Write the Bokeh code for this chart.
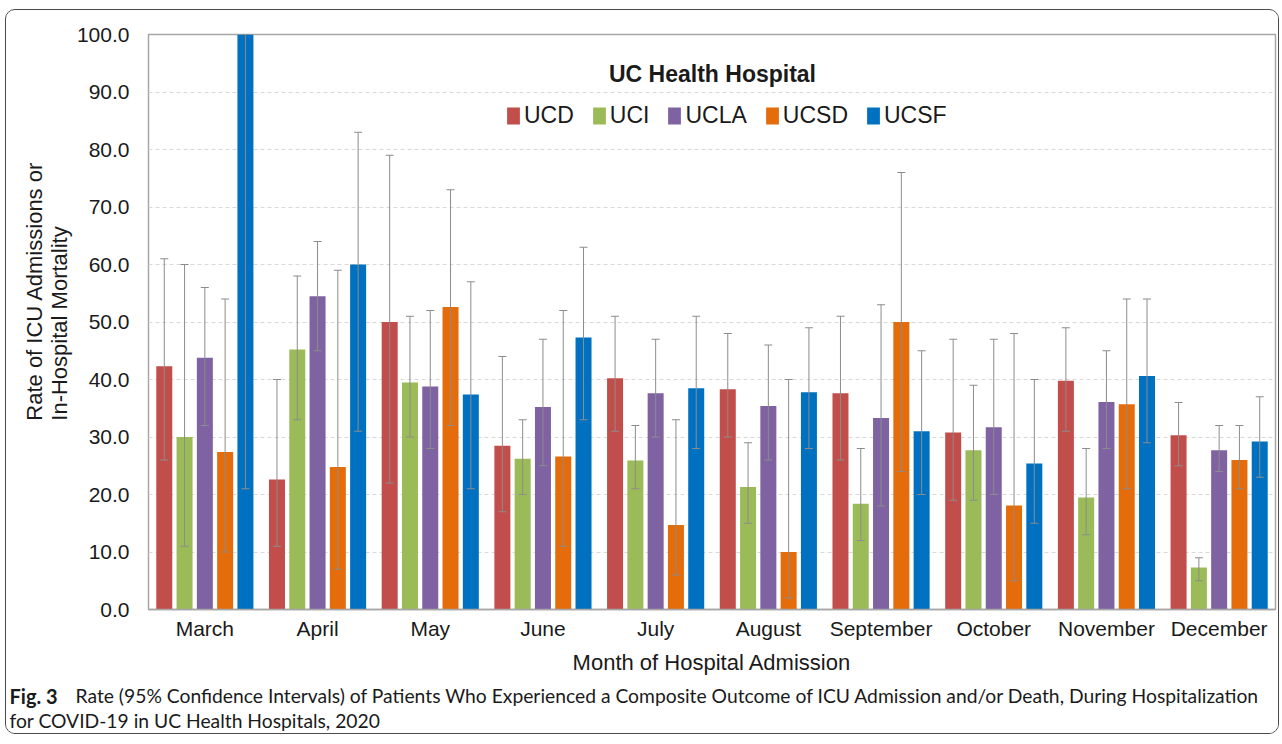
from bokeh.plotting import figure
from bokeh.layouts import column
from bokeh.models import (ColumnDataSource, FactorRange, Range1d, Whisker, TeeHead,
                          Legend, LegendItem, Label, Title, NumeralTickFormatter, FixedTicker)
from bokeh.transform import dodge
from bokeh.embed import file_html
from bokeh.resources import INLINE

months = ["March", "April", "May", "June", "July", "August", "September",
          "October", "November", "December"]
hospitals = ["UCD", "UCI", "UCLA", "UCSD", "UCSF"]
colors = ["#C24E4B", "#9BBB59", "#7F62A1", "#E46C0A", "#0070C0"]

ucd_rate = [42.3, 22.6, 50.0, 28.5, 40.2, 38.3, 37.6, 30.8, 39.8, 30.3]
ucd_lower = [26, 11, 22, 17, 31, 30, 26, 19, 31, 25]
ucd_upper = [61, 40, 79, 44, 51, 48, 51, 47, 49, 36]

uci_rate = [30.0, 45.2, 39.5, 26.2, 25.9, 21.3, 18.4, 27.7, 19.5, 7.3]
uci_lower = [11, 33, 30, 20, 21, 15, 12, 19, 13, 5]
uci_upper = [60, 58, 51, 33, 32, 29, 28, 39, 28, 9]

ucla_rate = [43.8, 54.5, 38.8, 35.2, 37.6, 35.4, 33.3, 31.7, 36.1, 27.7]
ucla_lower = [32, 45, 28, 25, 30, 26, 18, 20, 28, 24]
ucla_upper = [56, 64, 52, 47, 47, 46, 53, 47, 45, 32]

ucsd_rate = [27.4, 24.8, 52.6, 26.6, 14.7, 10.0, 50.0, 18.1, 35.7, 26.0]
ucsd_lower = [10, 7, 32, 11, 6, 2, 24, 5, 21, 21]
ucsd_upper = [54, 59, 73, 52, 33, 40, 76, 48, 54, 32]

ucsf_rate = [100.0, 60.0, 37.4, 47.3, 38.5, 37.8, 31.0, 25.4, 40.6, 29.2]
ucsf_lower = [21, 31, 21, 33, 28, 28, 20, 15, 29, 23]
ucsf_upper = [100, 83, 57, 63, 51, 49, 45, 40, 54, 37]

y_ticks = [0, 10, 20, 30, 40, 50, 60, 70, 80, 90, 100]

series = [
    (ucd_rate, ucd_lower, ucd_upper),
    (uci_rate, uci_lower, uci_upper),
    (ucla_rate, ucla_lower, ucla_upper),
    (ucsd_rate, ucsd_lower, ucsd_upper),
    (ucsf_rate, ucsf_lower, ucsf_upper),
]
offsets = [-0.36, -0.18, 0.0, 0.18, 0.36]

FONT = "Liberation Sans"
TXT = "#1a1a1a"

p = figure(x_range=FactorRange(factors=months), y_range=Range1d(0, 100),
           width=1272, height=672, output_backend="svg", toolbar_location=None,
           min_border_left=142, min_border_right=3, min_border_top=24,
           min_border_bottom=73)
p.background_fill_color = "white"
p.border_fill_color = "white"
p.outline_line_color = "#a6a6a6"
p.outline_line_width = 1.5

p.xgrid.grid_line_color = None
p.ygrid.grid_line_color = "#d9d9d9"
p.ygrid.grid_line_dash = "4 3"
p.ygrid.grid_line_width = 1

p.yaxis.ticker = FixedTicker(ticks=y_ticks)
p.yaxis.formatter = NumeralTickFormatter(format="0.0")
p.yaxis.major_label_text_font = FONT
p.yaxis.major_label_text_font_size = "21px"
p.yaxis.major_label_text_color = TXT
p.yaxis.major_tick_line_color = None
p.yaxis.major_tick_out = 0
p.yaxis.minor_tick_line_color = None
p.yaxis.minor_tick_out = 0
p.yaxis.axis_line_color = None
p.yaxis.major_label_standoff = 19

p.add_layout(Title(text="Rate of ICU Admissions or\nIn-Hospital  Mortality",
                   align="right", offset=127, standoff=4,
                   text_font=FONT, text_font_size="22px", text_font_style="normal",
                   text_color=TXT), "left")

p.xaxis.major_label_text_font = FONT
p.xaxis.major_label_text_font_size = "21px"
p.xaxis.major_label_text_color = TXT
p.xaxis.major_tick_line_color = None
p.xaxis.major_tick_out = 0
p.xaxis.axis_line_color = "#a6a6a6"
p.xaxis.axis_line_width = 1.5
p.xaxis.major_label_standoff = 7
p.xaxis.axis_label = "Month of Hospital Admission"
p.xaxis.axis_label_text_font = FONT
p.xaxis.axis_label_text_font_size = "22px"
p.xaxis.axis_label_text_font_style = "normal"
p.xaxis.axis_label_text_color = TXT
p.xaxis.axis_label_standoff = 7

items = []
for name, color, off, (rate, lo, hi) in zip(hospitals, colors, offsets, series):
    src = ColumnDataSource(dict(month=months, rate=rate, lower=lo, upper=hi))
    r = p.vbar(x=dodge("month", off, range=p.x_range), top="rate", width=0.142,
               source=src, fill_color=color, line_color=None)
    w = Whisker(base=dodge("month", off, range=p.x_range), lower="lower", upper="upper",
                source=src, line_color="#8c8c8c", line_width=1, level="overlay",
                upper_head=TeeHead(size=8, line_color="#8c8c8c", line_width=1),
                lower_head=TeeHead(size=8, line_color="#8c8c8c", line_width=1))
    p.add_layout(w)
    items.append(LegendItem(label=name, renderers=[r]))

legend = Legend(items=items, orientation="horizontal", location=(357, 480),
                glyph_width=16, glyph_height=21, label_standoff=3, spacing=17,
                padding=0, margin=0, border_line_color=None,
                background_fill_alpha=0, label_text_font=FONT,
                label_text_font_size="23px", label_text_color=TXT)
p.add_layout(legend)

p.add_layout(Label(x=564, y=536, x_units="screen", y_units="screen",
                   text="UC Health Hospital", text_align="center", text_baseline="middle",
                   text_font=FONT, text_font_size="23px", text_font_style="bold",
                   text_color=TXT))

# caption panel
cap = figure(width=1272, height=51, output_backend="svg", toolbar_location=None,
             x_range=Range1d(0, 1272), y_range=Range1d(0, 51),
             x_axis_type=None, y_axis_type=None,
             min_border=0, min_border_left=0, min_border_right=0,
             min_border_top=0, min_border_bottom=0)
cap.grid.visible = False
cap.outline_line_color = None
cap.background_fill_color = "white"
cap.border_fill_color = "white"
for fig in (p, cap):
    try:
        fig.frame_align = False
    except Exception:
        pass

CAP = "Lato"
CAP_SIZE = "19.3px"
cap.add_layout(Label(x=3, y=38, x_units="screen", y_units="screen",
                     text="Fig. 3", text_align="left", text_baseline="middle",
                     text_font=CAP, text_font_size="20px", text_font_style="bold",
                     text_color=TXT))
cap.add_layout(Label(x=69, y=38, x_units="screen", y_units="screen",
                     text="Rate (95% Confidence Intervals) of Patients Who Experienced a Composite "
                          "Outcome of ICU Admission and/or Death, During Hospitalization",
                     text_align="left", text_baseline="middle",
                     text_font=CAP, text_font_size=CAP_SIZE, text_color=TXT))
cap.add_layout(Label(x=3, y=13, x_units="screen", y_units="screen",
                     text="for COVID-19 in UC Health Hospitals, 2020",
                     text_align="left", text_baseline="middle",
                     text_font=CAP, text_font_size=CAP_SIZE, text_color=TXT))

layout = column(p, cap, spacing=0)
layout.styles = {"border": "1px solid #4a4a4a", "border-radius": "10px",
                 "margin-left": "5px", "margin-top": "9px", "overflow": "hidden"}

open("out.html", "w").write(file_html(layout, INLINE))
